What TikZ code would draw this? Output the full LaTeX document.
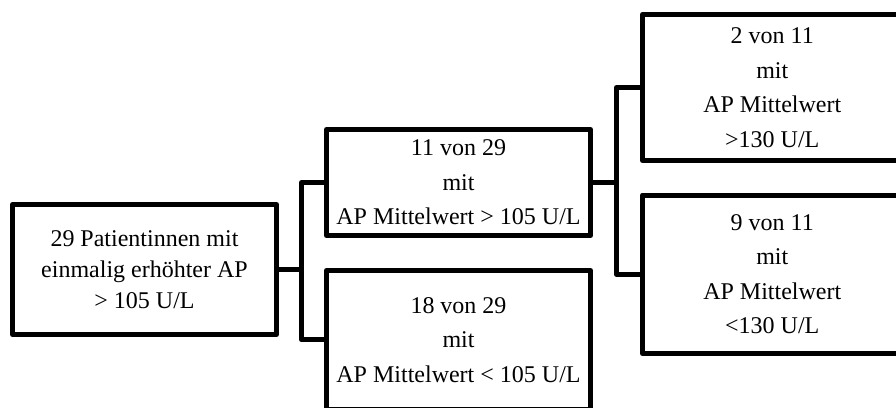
\documentclass[tikz,border=0pt]{standalone}
\usepackage{fontspec}
\setmainfont{Liberation Serif}
\begin{document}
\begin{tikzpicture}[x=1pt,y=-1pt,
  box/.style={draw, line width=5pt, line join=round, inner sep=0pt, align=center, font=\fontsize{24}{34.6}\selectfont},
  conn/.style={line width=5pt, line join=round}]
\useasboundingbox (0,0) rectangle (896,407);
\clip (0,0) rectangle (896,407);
\node[box, minimum width=264pt, minimum height=130pt, font=\fontsize{24}{31}\selectfont] (a) at (144.5,269.5) {29 Patientinnen mit\\einmalig erhöhter AP\\> 105 U/L};
\node[box, minimum width=264pt, minimum height=106pt] (b) at (458.5,182.5) {11 von 29\\mit\\AP Mittelwert > 105 U/L};
\node[box, minimum width=264pt, minimum height=138.5pt] (c) at (458.5,339.75) {18 von 29\\mit\\AP Mittelwert < 105 U/L};
\node[box, minimum width=259.5pt, minimum height=146pt] (d) at (772.25,87.5) {2 von 11\\mit\\AP Mittelwert\\>130 U/L};
\node[box, minimum width=259.5pt, minimum height=158.5pt] (e) at (772.25,274.25) {9 von 11\\mit\\AP Mittelwert\\<130 U/L};
\coordinate (j1) at (301.5,269.5);
\coordinate (j2) at (616.5,182.5);
\draw[conn] (a.east) -- (j1);
\draw[conn] (b.west) -| (j1) |- (c.west);
\draw[conn] (b.east) -- (j2);
\draw[conn] (d.west) -| (j2) |- (e.west);
\end{tikzpicture}
\end{document}
